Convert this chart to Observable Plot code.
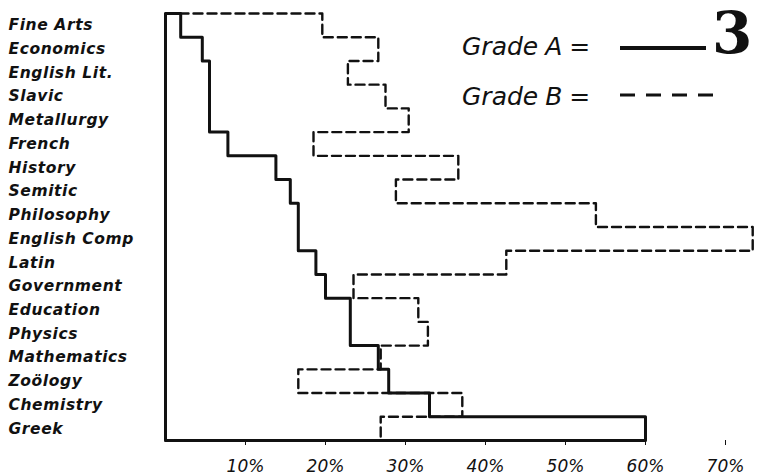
<!DOCTYPE html>
<html><head><meta charset="utf-8">
<script src="https://cdn.jsdelivr.net/npm/d3@7"></script>
<script src="https://cdn.jsdelivr.net/npm/@observablehq/plot@0.6"></script>
<style>
body{margin:0;background:#fff;}
#wrap{position:relative;width:758px;height:476px;overflow:hidden;}
#wrap svg g[aria-label="text"] text{letter-spacing:0.6px;}
.leg{position:absolute;font-family:"DejaVu Sans",sans-serif;font-style:italic;font-size:25px;word-spacing:-1px;color:#111;white-space:nowrap;line-height:1;}
.num{position:absolute;font-family:"DejaVu Serif",serif;font-weight:bold;font-size:58px;color:#111;line-height:1;}
svg.sample{position:absolute;overflow:visible;}
</style></head><body><div id="wrap"></div>
<script>
const categories = ["Fine Arts","Economics","English Lit.","Slavic","Metallurgy","French","History","Semitic","Philosophy","English Comp","Latin","Government","Education","Physics","Mathematics","Zoölogy","Chemistry","Greek"];
const gradeA = [1.9, 4.6, 5.5, 5.5, 5.5, 7.8, 13.8, 15.6, 16.6, 16.6, 18.8, 20.0, 23.1, 23.1, 26.6, 27.9, 33.0, 60.0];
const gradeB = [19.6, 26.6, 22.8, 27.5, 30.4, 18.5, 36.6, 28.8, 53.8, 73.4, 42.6, 23.5, 31.6, 32.8, 26.9, 16.6, 37.1, 26.9];
const xTicks = [10, 20, 30, 40, 50, 60, 70];
const legendA = "Grade A =";
const legendB = "Grade B =";
const figureNumber = "3";

function stepPath(values) {
  const pts = [{x: 0, y: 0}];
  values.forEach((v, i) => { pts.push({x: v, y: i}, {x: v, y: i + 1}); });
  pts.push({x: 0, y: values.length});
  return pts;
}
const labelRows = categories.map((c, i) => ({c, y: i + 0.5}));
const font = "DejaVu Sans, sans-serif";

const chart = Plot.plot({
  width: 758, height: 476,
  marginLeft: 165, marginRight: 33, marginTop: 13, marginBottom: 36,
  style: {background: "#fff", color: "#111", fontFamily: font},
  x: {domain: [0, 70]},
  y: {domain: [0, categories.length], reverse: true, axis: null},
  marks: [
    Plot.line(stepPath(gradeB), {x: "x", y: "y", stroke: "#111", strokeWidth: 2.4, strokeDasharray: "9,5", curve: "linear"}),
    Plot.line(stepPath(gradeA), {x: "x", y: "y", stroke: "#111", strokeWidth: 3, curve: "linear"}),
    Plot.ruleX([0], {y1: 0, y2: categories.length, stroke: "#111", strokeWidth: 3}),
    Plot.text(labelRows, {y: "y", text: "c", frameAnchor: "left", dx: -157, textAnchor: "start",
      fontSize: 15.5, fontStyle: "italic", fontWeight: "bold", fill: "#111", fontFamily: font}),
    Plot.axisX(xTicks, {tickFormat: d => d + "%", tickSize: 5, tickPadding: 14, fontSize: 17,
      fontStyle: "italic", fontFamily: font, label: null, stroke: "#111"})
  ]
});
const wrap = document.getElementById("wrap");
wrap.appendChild(chart);

function addText(cls, txt, left, top) {
  const d = document.createElement("div");
  d.className = cls; d.textContent = txt;
  d.style.left = left + "px"; d.style.top = top + "px";
  wrap.appendChild(d);
}
addText("leg", legendA, 462, 34);
addText("leg", legendB, 462, 84);
addText("num", figureNumber, 712, 4);
const ns = "http://www.w3.org/2000/svg";
function sample(y, dash) {
  const s = document.createElementNS(ns, "svg");
  s.setAttribute("class", "sample");
  s.setAttribute("width", 110); s.setAttribute("height", 10);
  s.style.left = "618px"; s.style.top = (y - 5) + "px";
  const l = document.createElementNS(ns, "line");
  l.setAttribute("x1", 2); l.setAttribute("x2", dash ? 104 : 88);
  l.setAttribute("y1", 5); l.setAttribute("y2", 5);
  l.setAttribute("stroke", "#111"); l.setAttribute("stroke-width", dash ? 3 : 4);
  if (dash) l.setAttribute("stroke-dasharray", "15,11");
  s.appendChild(l); wrap.appendChild(s);
}
sample(48, false);
sample(95, true);
</script></body></html>
